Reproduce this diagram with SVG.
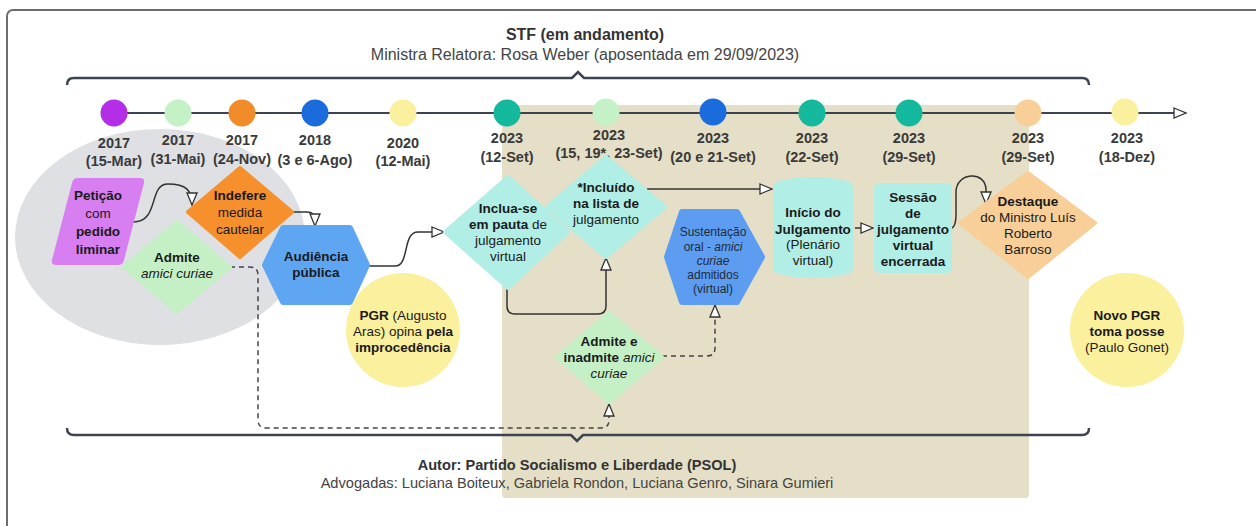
<svg xmlns="http://www.w3.org/2000/svg" width="1256" height="526" viewBox="0 0 1256 526">
<defs>
<style>
text{font-family:"Liberation Sans",Arial,sans-serif;}
.t{font-size:13.5px;fill:#1a1a1a;text-anchor:middle;}
.s{font-size:12px;fill:#1f2a38;text-anchor:middle;}
.lbl{font-size:14.5px;font-weight:bold;fill:#3a3a3a;text-anchor:middle;}
.b{font-weight:bold;}
.i{font-style:italic;}
.con{fill:none;stroke:#333;stroke-width:1.5;}
.dash{fill:none;stroke:#444;stroke-width:1.5;stroke-dasharray:5 4;}
.brace{fill:none;stroke:#3d4451;stroke-width:2.5;}
.dot{stroke:none;}
</style>
<marker id="ah" markerUnits="userSpaceOnUse" markerWidth="16" markerHeight="14" refX="13" refY="6" orient="auto">
<path d="M1,1 L13,6 L1,11 Z" fill="#fff" stroke="#333" stroke-width="1.3"/>
</marker>
</defs>
<rect x="7" y="10" width="1270" height="540" rx="6" fill="#fff" stroke="#6b6b70" stroke-width="2"/>
<g id="backgrounds">
<ellipse cx="160" cy="237" rx="145" ry="108" fill="#dee0e4"/>
<rect x="502" y="105" width="527" height="393" rx="4" fill="#e4dfc6"/>
</g>
<g id="header">
<text x="585" y="40" font-size="16" font-weight="bold" fill="#333" text-anchor="middle">STF (em andamento)</text>
<text x="585" y="60" font-size="16" fill="#444" text-anchor="middle">Ministra Relatora: Rosa Weber (aposentada em 29/09/2023)</text>
<path class="brace" d="M67,85 Q67,78 74,78 H572 L578,72 L584,78 H1082 Q1089,78 1089,85"/>
</g>
<g id="footer">
<path class="brace" d="M67,428 Q67,435 74,435 H571 L577,441 L583,435 H1082 Q1089,435 1089,428"/>
<text x="577" y="470" font-size="14.6" font-weight="bold" fill="#333" text-anchor="middle">Autor: Partido Socialismo e Liberdade (PSOL)</text>
<text x="577" y="488" font-size="14.6" fill="#444" text-anchor="middle">Advogadas: Luciana Boiteux, Gabriela Rondon, Luciana Genro, Sinara Gumieri</text>
</g>
<g id="timeline">
<line x1="114" y1="113" x2="1186" y2="113" stroke="#3d4451" stroke-width="2" marker-end="url(#ah)"/>
<circle class="dot" cx="114" cy="113" r="13.5" fill="#b32ee6"/>
<circle class="dot" cx="178" cy="113" r="13.5" fill="#c4f1c5"/>
<circle class="dot" cx="242" cy="113" r="13.5" fill="#f28b2a"/>
<circle class="dot" cx="315" cy="113" r="13.5" fill="#1a6bdc"/>
<circle class="dot" cx="403" cy="113" r="13.5" fill="#fbf09d"/>
<circle class="dot" cx="507" cy="113" r="13.5" fill="#14b89c"/>
<circle class="dot" cx="606" cy="112" r="13.5" fill="#c4f1c5"/>
<circle class="dot" cx="713" cy="112" r="13.5" fill="#1a6bdc"/>
<circle class="dot" cx="812" cy="113" r="13.5" fill="#14b89c"/>
<circle class="dot" cx="909" cy="113" r="13.5" fill="#14b89c"/>
<circle class="dot" cx="1028" cy="113" r="13.5" fill="#f8cf98"/>
<circle class="dot" cx="1125" cy="112" r="13.5" fill="#fbf09d"/>
<text class="lbl" x="114" y="148">2017</text><text class="lbl" x="114" y="166">(15-Mar)</text>
<text class="lbl" x="178" y="145">2017</text><text class="lbl" x="178" y="164">(31-Mai)</text>
<text class="lbl" x="242" y="145">2017</text><text class="lbl" x="242" y="164">(24-Nov)</text>
<text class="lbl" x="315" y="145">2018</text><text class="lbl" x="315" y="165">(3 e 6-Ago)</text>
<text class="lbl" x="403" y="148">2020</text><text class="lbl" x="403" y="166">(12-Mai)</text>
<text class="lbl" x="507" y="143">2023</text><text class="lbl" x="507" y="162">(12-Set)</text>
<text class="lbl" x="609" y="140">2023</text><text class="lbl" x="609" y="158">(15, 19*, 23-Set)</text>
<text class="lbl" x="713" y="143">2023</text><text class="lbl" x="713" y="162">(20 e 21-Set)</text>
<text class="lbl" x="812" y="143">2023</text><text class="lbl" x="812" y="162">(22-Set)</text>
<text class="lbl" x="909" y="143">2023</text><text class="lbl" x="909" y="162">(29-Set)</text>
<text class="lbl" x="1028" y="143">2023</text><text class="lbl" x="1028" y="162">(29-Set)</text>
<text class="lbl" x="1127" y="143">2023</text><text class="lbl" x="1127" y="162">(18-Dez)</text>
</g>
<g id="connectors">
<path class="con" d="M133,222 C160,222 148,184 168,184 C186,184 192,190 192,205" marker-end="url(#ah)"/>
<path class="con" d="M292,212 H307 Q315,212 315,220 V226" marker-end="url(#ah)"/>
<path class="con" d="M367,266 H395 C410,266 402,232 418,232 H444" marker-end="url(#ah)"/>
<path class="con" d="M507,288 V306 Q507,314 515,314 H598 Q606,314 606,306 V258" marker-end="url(#ah)"/>
<path class="con" d="M647,189 H772" marker-end="url(#ah)"/>
<path class="con" d="M855,228 H873" marker-end="url(#ah)"/>
<path class="con" d="M952,228 Q956,226 956,214 V192 C956,172 986,170 986,190 V204" marker-end="url(#ah)"/>
<path class="dash" d="M230,267 H250 Q258,267 258,275 V420 Q258,428 266,428 H601 Q609,428 609,420 V404" marker-end="url(#ah)"/>
<path class="dash" d="M662,356 H707 Q715,356 715,348 V305" marker-end="url(#ah)"/>
</g>
<g id="n-peticao">
<path d="M78,178 H140 Q145,178 144,183 L124,260 Q123,265 118,265 H56 Q51,265 52,260 L72,183 Q73,178 78,178 Z" fill="#d77ff0"/>
<text class="t" font-size="15" x="98" y="200"><tspan class="b">Petição</tspan></text>
<text class="t" font-size="15" x="98" y="218">com</text>
<text class="t" font-size="15" x="98" y="236"><tspan class="b">pedido</tspan></text>
<text class="t" font-size="15" x="98" y="254"><tspan class="b">liminar</tspan></text>
</g>
<g id="n-indefere">
<polygon points="188,212 240,168 292,212 240,257" fill="#f5902c" stroke="#f5902c" stroke-width="4" stroke-linejoin="round"/>
<text class="t" x="240" y="200"><tspan class="b">Indefere</tspan></text>
<text class="t" x="240" y="217">medida</text>
<text class="t" x="240" y="234">cautelar</text>
</g>
<g id="n-admite">
<polygon points="124,267 177,222 230,267 177,312" fill="#c5f0c6" stroke="#c5f0c6" stroke-width="4" stroke-linejoin="round"/>
<text class="t" x="177" y="262"><tspan class="b">Admite</tspan></text>
<text class="t" x="177" y="278"><tspan class="i">amici curiae</tspan></text>
</g>
<g id="n-audiencia">
<polygon points="265,265 283,228 350,228 367,265 350,302 283,302" fill="#5ea6f2" stroke="#5ea6f2" stroke-width="6" stroke-linejoin="round"/>
<text class="t" x="316" y="261"><tspan class="b">Audiência</tspan></text>
<text class="t" x="316" y="277"><tspan class="b">pública</tspan></text>
</g>
<g id="n-pgr">
<circle cx="403" cy="330" r="57" fill="#fbf09d"/>
<text class="t" x="403" y="320"><tspan class="b">PGR</tspan> (Augusto</text>
<text class="t" x="403" y="336">Aras) opina <tspan class="b">pela</tspan></text>
<text class="t" x="403" y="352"><tspan class="b">improcedência</tspan></text>
</g>
<g id="n-inclua">
<polygon points="445,232 508,177 568,232 508,288" fill="#b0eee6" stroke="#b0eee6" stroke-width="4" stroke-linejoin="round"/>
<text class="t" x="508" y="213"><tspan class="b">Inclua-se</tspan></text>
<text class="t" x="508" y="229"><tspan class="b">em pauta</tspan> de</text>
<text class="t" x="508" y="245">julgamento</text>
<text class="t" x="508" y="261">virtual</text>
</g>
<g id="n-incluido">
<polygon points="547,207 606,157 665,207 606,257" fill="#b0eee6" stroke="#b0eee6" stroke-width="4" stroke-linejoin="round"/>
<text class="t" x="606" y="192"><tspan class="b">*Incluído</tspan></text>
<text class="t" x="606" y="208"><tspan class="b">na lista de</tspan></text>
<text class="t" x="606" y="224">julgamento</text>
</g>
<g id="n-sustentacao">
<polygon points="667,257 682,212 737,212 762,257 737,302 682,302" fill="#5d9df1" stroke="#5d9df1" stroke-width="6" stroke-linejoin="round"/>
<text class="s" x="713" y="236">Sustentação</text>
<text class="s" x="713" y="251">oral - <tspan class="i">amici</tspan></text>
<text class="s" x="713" y="265"><tspan class="i">curiae</tspan></text>
<text class="s" x="713" y="279">admitidos</text>
<text class="s" x="713" y="293">(virtual)</text>
</g>
<g id="n-admite-inadmite">
<polygon points="557,357 609,313 662,357 609,402" fill="#c5f0c6" stroke="#c5f0c6" stroke-width="4" stroke-linejoin="round"/>
<text class="t" x="609" y="346"><tspan class="b">Admite e</tspan></text>
<text class="t" x="609" y="362"><tspan class="b">inadmite</tspan> <tspan class="i">amici</tspan></text>
<text class="t" x="609" y="378"><tspan class="i">curiae</tspan></text>
</g>
<g id="n-inicio">
<path d="M773,188 Q773,182 779,181 Q813,173 847,181 Q853,182 853,188 V267 Q853,273 847,274 Q813,282 779,274 Q773,273 773,267 Z" fill="#b0eee6"/>
<text class="t" x="813" y="217"><tspan class="b">Início do</tspan></text>
<text class="t" x="813" y="234"><tspan class="b">Julgamento</tspan></text>
<text class="t" x="813" y="249">(Plenário</text>
<text class="t" x="813" y="265">virtual)</text>
</g>
<g id="n-sessao">
<rect x="874" y="183" width="78" height="90" rx="5" fill="#b0eee6"/>
<text class="t" x="913" y="202"><tspan class="b">Sessão</tspan></text>
<text class="t" x="913" y="218"><tspan class="b">de</tspan></text>
<text class="t" x="913" y="234"><tspan class="b">julgamento</tspan></text>
<text class="t" x="913" y="250"><tspan class="b">virtual</tspan></text>
<text class="t" x="913" y="266"><tspan class="b">encerrada</tspan></text>
</g>
<g id="n-destaque">
<polygon points="960,223 1028,173 1095,223 1028,277" fill="#f8cf98" stroke="#f8cf98" stroke-width="4" stroke-linejoin="round"/>
<text class="t" x="1028" y="206"><tspan class="b">Destaque</tspan></text>
<text class="t" x="1028" y="222">do Ministro Luís</text>
<text class="t" x="1028" y="238">Roberto</text>
<text class="t" x="1028" y="254">Barroso</text>
</g>
<g id="n-novopgr">
<circle cx="1127" cy="330" r="57" fill="#fbf09d"/>
<text class="t" x="1127" y="320"><tspan class="b">Novo PGR</tspan></text>
<text class="t" x="1127" y="336"><tspan class="b">toma posse</tspan></text>
<text class="t" x="1127" y="352">(Paulo Gonet)</text>
</g>
</svg>
